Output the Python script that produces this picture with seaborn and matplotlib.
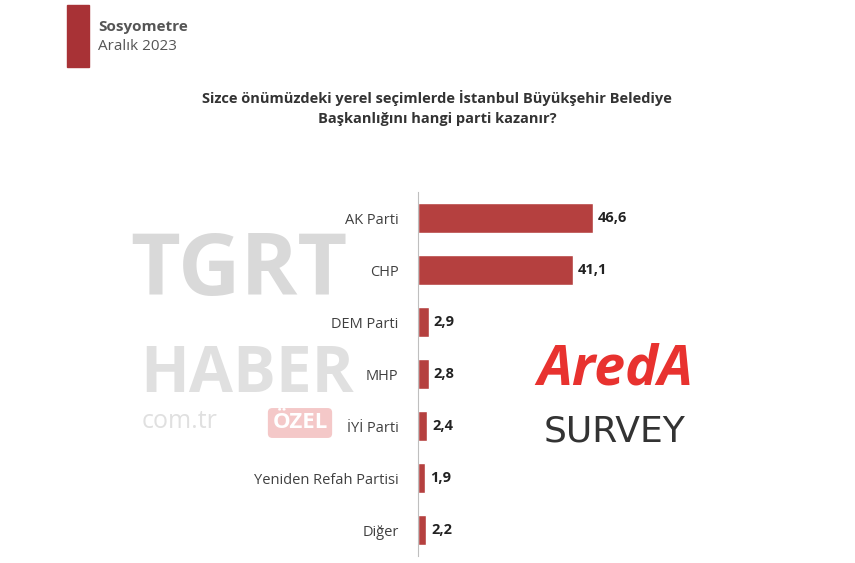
import matplotlib
matplotlib.use("Agg")
import matplotlib.pyplot as plt
import seaborn as sns
import pandas as pd

parties = ["AK Parti", "CHP", "DEM Parti", "MHP", "İYİ Parti", "Yeniden Refah Partisi", "Diğer"]
values = [46.6, 41.1, 2.9, 2.8, 2.4, 1.9, 2.2]
df = pd.DataFrame({"party": parties, "value": values})

sns.set_style("white")
plt.rcParams['font.family'] = ['Open Sans', 'DejaVu Sans']
W, H = 855, 563
fig = plt.figure(figsize=(8.55, 5.63), dpi=100)
fig.patch.set_facecolor("white")

# watermarks
fig.text(130/W, 1-272/H, "TGRT", fontsize=62, fontweight="bold", color="#d9d9d9", va="center", ha="left")
fig.text(140/W, 1-375/H, "HABER", fontsize=46, fontweight="bold", color="#e0e0e0", va="center", ha="left")
fig.text(142/W, 1-422/H, "com.tr", fontsize=18, color="#e0e0e0", va="center", ha="left")
fig.text(300/W, 1-423/H, "ÖZEL", fontsize=16, fontweight="bold", color="white", va="center", ha="center",
         bbox=dict(boxstyle="round,pad=0.2", fc="#f4c8c8", ec="none"))
fig.text(615/W, 1-370/H, "AredA", fontsize=40, fontweight="bold", fontstyle="italic", color="#e8322f", va="center", ha="center")
fig.text(615/W, 1-432/H, "SURVEY", fontsize=26, color="#333333", va="center", ha="center", fontfamily="DejaVu Sans")

ax = fig.add_axes([418/W, 1-556/H, 300/W, (556-192)/H])
sns.barplot(data=df, x="value", y="party", color="#b5403f", width=0.58, ax=ax, saturation=1)
ax.set_xlim(0, 300/3.76)
ax.set_xlabel(""); ax.set_ylabel("")
ax.set_xticks([])
ax.tick_params(axis="y", length=0, labelsize=10.5, colors="#404040", pad=14)
for s in ["top", "right", "bottom"]:
    ax.spines[s].set_visible(False)
ax.spines["left"].set_color("#bfbfbf")
ax.patch.set_alpha(0)
for i, v in enumerate(values):
    ax.text(v + 1.3, i, f"{v:.1f}".replace(".", ","), va="center", ha="left", fontsize=10.5, fontweight="bold", color="#222222")

# header
fig.patches.append(plt.Rectangle((67/W, 1-67/H), 22/W, 62/H, transform=fig.transFigure, color="#a83236"))
fig.text(98/W, 1-27/H, "Sosyometre", fontsize=11, fontweight="bold", color="#555555", va="center")
fig.text(98/W, 1-46/H, "Aralık 2023", fontsize=11, color="#555555", va="center")
fig.text(437/W, 1-108/H, "Sizce önümüzdeki yerel seçimlerde İstanbul Büyükşehir Belediye\nBaşkanlığını hangi parti kazanır?",
         fontsize=10.5, fontweight="bold", color="#333333", ha="center", va="center", linespacing=1.5)

fig.savefig("out.png", dpi=100)
